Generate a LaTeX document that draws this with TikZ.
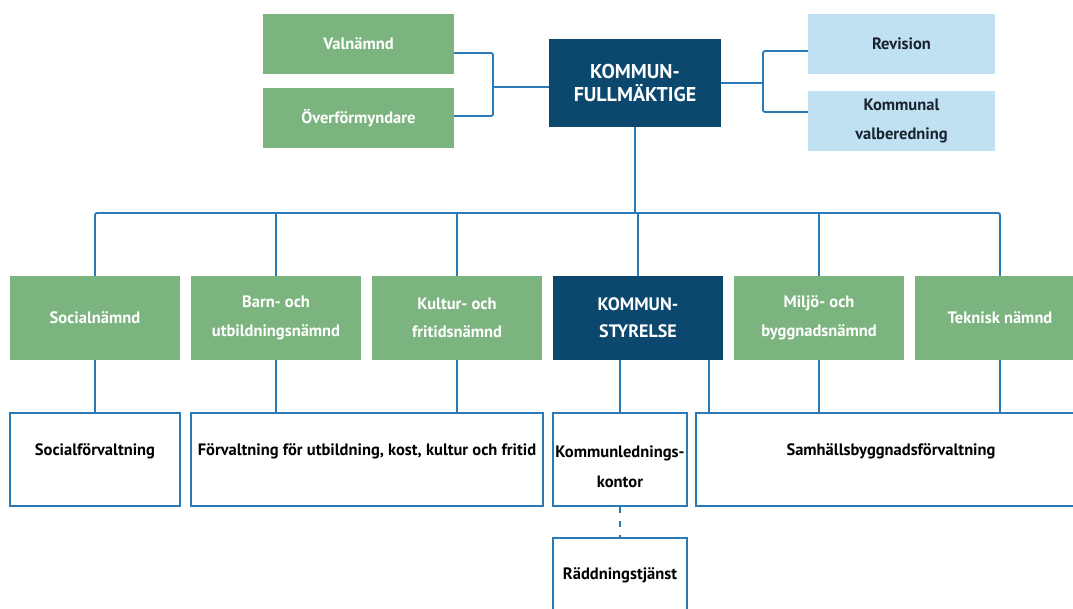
\documentclass[tikz,border=0pt]{standalone}
\usepackage{fontspec}
\setmainfont{PT Sans}

\definecolor{kgreen}{RGB}{124,180,127}
\definecolor{knavy}{RGB}{12,72,110}
\definecolor{klight}{RGB}{192,225,242}
\definecolor{kline}{RGB}{42,122,184}
\definecolor{ktext}{RGB}{25,35,48}

\begin{document}
\begin{tikzpicture}[x=1pt,y=-1pt,box/.style={rectangle, inner sep=0pt, align=center, font=\bfseries\fontsize{16.5}{28.5}\selectfont},nambox/.style={box, fill=kgreen, text=white},kfbox/.style={box, fill=knavy, text=white},revbox/.style={box, fill=klight, text=ktext},forvbox/.style={box, draw=kline, line width=1.8pt, fill=white, text=black},link/.style={draw=kline, line width=1.8pt}]
\useasboundingbox (0,0) rectangle (1073,609);
\node[nambox, minimum width=191pt, minimum height=60pt] (valn) at (358.5,44) {Valnämnd};
\node[nambox, minimum width=191pt, minimum height=60pt] (overf) at (358.5,118.5) {Överförmyndare};
\node[kfbox, minimum width=172pt, minimum height=88pt, font=\bfseries\fontsize{20}{23}\selectfont] (kf) at (635,83) {KOMMUN-\\FULLMÄKTIGE};
\node[revbox, minimum width=187pt, minimum height=60pt] (rev) at (901.5,44) {Revision};
\node[revbox, minimum width=187pt, minimum height=60pt] (kval) at (901.5,121) {Kommunal\\valberedning};
\node[nambox, minimum width=170pt, minimum height=84pt] (soc) at (95,318) {Socialnämnd};
\node[nambox, minimum width=170pt, minimum height=84pt] (barn) at (276,318) {Barn- och\\utbildningsnämnd};
\node[nambox, minimum width=170pt, minimum height=84pt] (kult) at (457,318) {Kultur- och\\fritidsnämnd};
\node[kfbox, minimum width=170pt, minimum height=84pt, font=\bfseries\fontsize{18}{27}\selectfont] (ks) at (638,318) {KOMMUN-\\STYRELSE};
\node[nambox, minimum width=170pt, minimum height=84pt] (milj) at (819,318) {Miljö- och\\byggnadsnämnd};
\node[nambox, minimum width=170pt, minimum height=84pt] (tek) at (1000,318) {Teknisk nämnd};
\node[forvbox, minimum width=170pt, minimum height=93pt, text depth=20pt] (socf) at (95,459.5) {Socialförvaltning};
\node[forvbox, minimum width=352pt, minimum height=93pt, text depth=20pt] (forv) at (367,459.5) {Förvaltning för utbildning, kost, kultur och fritid};
\node[forvbox, minimum width=134pt, minimum height=93pt, font=\bfseries\fontsize{16.5}{30}\selectfont, text height=56pt] (kl) at (620,459.5) {Kommunlednings-\\kontor};
\node[forvbox, minimum width=390pt, minimum height=93pt, text depth=20pt] (samh) at (891,459.5) {Samhällsbyggnadsförvaltning};
\node[forvbox, minimum width=134pt, minimum height=74pt] (radd) at (620,575) {Räddningstjänst};
\coordinate (lb) at (493,87);
\coordinate (rb) at (763,83);
\coordinate (bus) at (635,213);
\draw[link, rounded corners=2pt] ([yshift=-9pt]valn.east) -| (lb) |- ([yshift=2.5pt]overf.east);
\draw[link] (lb) -- (lb -| kf.west);
\draw[link] (kf.east) -- (rb);
\draw[link, rounded corners=2pt] ([yshift=-7pt]rev.west) -| (rb) |- ([yshift=9pt]kval.west);
\draw[link] (kf.south) -- (bus);
\draw[link, rounded corners=2pt] (soc.north) |- (bus) -| (tek.north);
\foreach \n in {barn,kult,ks,milj} \draw[link] (\n.north) -- (\n.north |- bus);
\draw[link] (soc.south) -- (socf.north);
\draw[link] (barn.south) -- (barn.south |- forv.north);
\draw[link] (kult.south) -- (kult.south |- forv.north);
\draw[link] (kl.north |- ks.south) -- (kl.north);
\draw[link] ([xshift=71pt]ks.south) -- ([xshift=71pt]ks.south |- samh.north);
\draw[link] (milj.south) -- (milj.south |- samh.north);
\draw[link] (tek.south) -- (tek.south |- samh.north);
\draw[link, dash pattern=on 6pt off 8pt] (kl.south) -- (radd.north);
\end{tikzpicture}
\end{document}
